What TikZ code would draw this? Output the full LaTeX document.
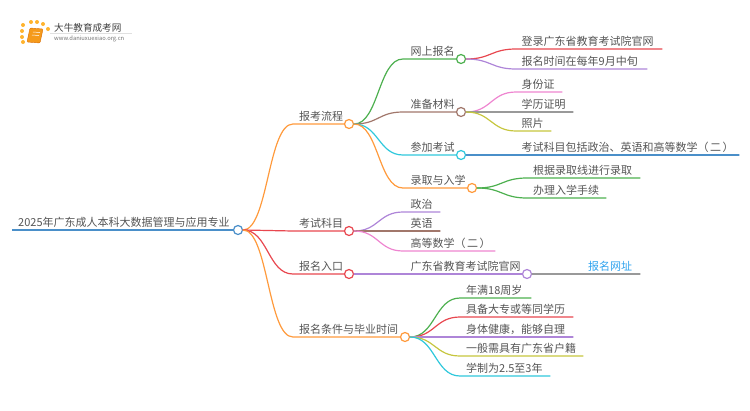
\documentclass[tikz,border=0pt]{standalone}
\usepackage{fontspec}
\setmainfont[RawFeature=-chws]{Noto Sans CJK SC}
\usetikzlibrary{calc}
\definecolor{txtgray}{HTML}{555555}
\definecolor{cblue}{HTML}{4A8FC9}
\definecolor{corange}{HTML}{FF9A3C}
\definecolor{cgreen}{HTML}{4DB04F}
\definecolor{cbrown}{HTML}{A1776B}
\definecolor{ccyan}{HTML}{2FC8DC}
\definecolor{cred}{HTML}{E8474F}
\definecolor{cpurple}{HTML}{AE85D8}
\definecolor{cpink}{HTML}{EE85D0}
\definecolor{cgray}{HTML}{999999}
\definecolor{colive}{HTML}{C6C63E}
\definecolor{clink}{HTML}{2FA3EE}
\definecolor{cbook}{HTML}{F59A1B}
\tikzset{
  txt/.style={anchor=base west,inner sep=0pt,text=txtgray,font=\fontsize{11}{13}\selectfont},
  knot/.style={circle,draw=#1,fill=white,line width=1.2pt,minimum size=9pt,inner sep=0pt},
  spark/.style={circle,fill=#1,inner sep=0pt,minimum size=4pt},
  branchline/.style={line width=1.2pt,line cap=round}
}
% from, target, straight length
\newcommand{\branch}[4]{
  \coordinate (from) at (#2.east);
  \coordinate (knee) at ($(#3)+(-#4,0)$);
  \draw[#1,branchline] (from) .. controls ($(from)!.5!(from-|knee)$) and ($(knee)!.5!(knee-|from)$) .. (knee) -- (#3);
}
\begin{document}
\begin{tikzpicture}[x=1pt,y=-1pt]
\useasboundingbox (0,0) rectangle (750,410);
% logo
\foreach \px/\py [count=\i] in {23/25,31/22,37/22,43/24,48/29,22/31,22/37,23/42}
  \node[spark=corange!75!yellow] (dot\i) at (\px,\py) {};
\draw[fill=cbook,draw=orange!85!black,rounded corners=1pt] (30,28) -- (43,29) -- (40,43) -- (27,42) -- cycle;
\draw[white,line width=0.5pt] (33,32) -- (40,32.5);
\draw[white,line width=0.5pt] (32,35) -- (39,35.5);
\node[txt,text=black!75,font=\fontsize{9.6}{11}\selectfont] (logotitle) at (54,31) {大牛教育成考网};
\draw[black!12,line width=0.5pt] (50,33.5) -- (132,33.5);
\node[txt,text=black!55,font=\fontsize{5.8}{7}\selectfont] (logourl) at (54,40.5) {www.daniuxuexiao.org.cn};
% knots
\node[knot=cblue] (root) at (238,230) {};
\node[knot=corange] (liucheng) at (349,124) {};
\node[knot=cred] (kemu) at (349,231) {};
\node[knot=cred] (rukou) at (349,274) {};
\node[knot=corange] (tiaojian) at (405,337) {};
\node[knot=cgreen] (wangshang) at (461,59) {};
\node[knot=cbrown] (cailiao) at (461,112) {};
\node[knot=ccyan] (kaoshi) at (461,155) {};
\node[knot=corange] (luqu) at (472,188) {};
\node[knot=cpurple] (yuanwang) at (527,274) {};
% free ends
\coordinate (rootend) at (12,230);
\coordinate (denglu) at (662,49);
\coordinate (shijian) at (647,69);
\coordinate (shenfen) at (562,92);
\coordinate (xueli) at (573,112);
\coordinate (zhaopian) at (551,131);
\coordinate (baohan) at (739,155);
\coordinate (genju) at (640,178);
\coordinate (banli) at (606,198);
\coordinate (zhengzhi) at (440,212);
\coordinate (yingyu) at (440,231);
\coordinate (gaoshu) at (495,251);
\coordinate (wangzhi) at (640,274);
\coordinate (nianman) at (531,298);
\coordinate (juebei) at (573,317);
\coordinate (jiankang) at (573,337);
\coordinate (huji) at (583,356);
\coordinate (xuezhi) at (550,376);
% connectors
\draw[cblue,line width=1.5pt] (rootend) -- (root.west);
\branch{corange}{root}{liucheng.west}{51}
\branch{cred}{root}{kemu.west}{51}
\branch{cred}{root}{rukou.west}{51}
\branch{corange}{root}{tiaojian.west}{107}
\branch{cgreen}{liucheng}{wangshang.west}{53}
\branch{cbrown}{liucheng}{cailiao.west}{53}
\branch{ccyan}{liucheng}{kaoshi.west}{53}
\branch{corange}{liucheng}{luqu.west}{64}
\branch{cred}{wangshang}{denglu}{146}
\branch{cpurple}{wangshang}{shijian}{131}
\branch{cpink}{cailiao}{shenfen}{46}
\branch{cgray}{cailiao}{xueli}{57}
\branch{colive}{cailiao}{zhaopian}{35}
\branch{cblue}{kaoshi}{baohan}{223}
\branch{cgreen}{luqu}{genju}{113}
\branch{cgreen}{luqu}{banli}{79}
\branch{cpurple}{kemu}{zhengzhi}{37}
\branch{cbrown}{kemu}{yingyu}{37}
\branch{cpink}{kemu}{gaoshu}{92}
\branch{cpurple}{rukou}{yuanwang.west}{100}
\branch{cgray}{yuanwang}{wangzhi}{60}
\branch{cgreen}{tiaojian}{nianman}{71}
\branch{cred}{tiaojian}{juebei}{113}
\branch{cpurple}{tiaojian}{jiankang}{113}
\branch{colive}{tiaojian}{huji}{123}
\branch{ccyan}{tiaojian}{xuezhi}{90}
% labels
\node[txt] (roottxt) at (18,226.5) {2025年广东成人本科大数据管理与应用专业};
\node[txt] (liuchengtxt) at (299,120) {报考流程};
\node[txt] (kemutxt) at (299,227) {考试科目};
\node[txt] (rukoutxt) at (299,270) {报名入口};
\node[txt] (tiaojiantxt) at (299,333) {报名条件与毕业时间};
\node[txt] (wangshangtxt) at (410.5,55) {网上报名};
\node[txt] (cailiaotxt) at (410.5,108) {准备材料};
\node[txt] (kaoshitxt) at (410.5,151) {参加考试};
\node[txt] (luqutxt) at (410.5,184) {录取与入学};
\node[txt] (denglutxt) at (521.5,45) {登录广东省教育考试院官网};
\node[txt] (shijiantxt) at (521.5,65) {报名时间在每年9月中旬};
\node[txt] (shenfentxt) at (521.5,88) {身份证};
\node[txt] (xuelitxt) at (521.5,108) {学历证明};
\node[txt] (zhaopiantxt) at (521.5,127) {照片};
\node[txt] (baohantxt) at (521.5,151) {考试科目包括政治、英语和高等数学（\kern1.5pt 二\kern1.5pt ）};
\node[txt] (genjutxt) at (533,174) {根据录取线进行录取};
\node[txt] (banlitxt) at (533,194) {办理入学手续};
\node[txt] (zhengzhitxt) at (410.5,208) {政治};
\node[txt] (yingyutxt) at (410.5,227) {英语};
\node[txt] (gaoshutxt) at (410.5,247) {高等数学（\kern1.5pt 二\kern1.5pt ）};
\node[txt] (yuanwangtxt) at (410.5,270) {广东省教育考试院官网};
\node[txt,text=clink] (wangzhitxt) at (588,270) {报名网址};
\node[txt] (nianmantxt) at (466,294) {年满18周岁};
\node[txt] (juebeitxt) at (466,313) {具备大专或等同学历};
\node[txt] (jiankangtxt) at (466,333) {身体健康，能够自理};
\node[txt] (hujitxt) at (466,352) {一般需具有广东省户籍};
\node[txt] (xuezhitxt) at (466,372) {学制为2.5至3年};
\end{tikzpicture}
\end{document}
